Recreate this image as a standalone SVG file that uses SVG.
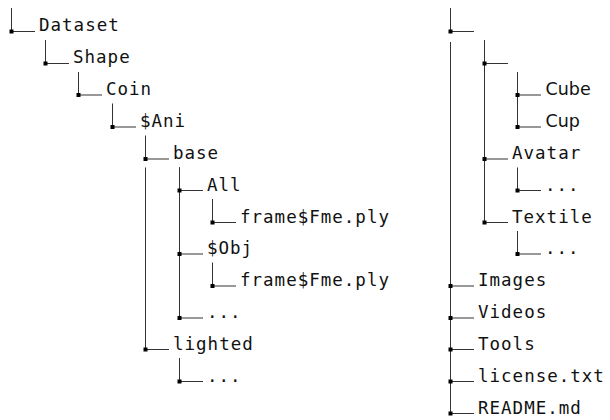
<svg xmlns="http://www.w3.org/2000/svg" width="610" height="420" viewBox="0 0 610 420">
<style>
.c{fill:none;stroke:#333;stroke-width:1}
.j{fill:#000}
.t{font-family:"DejaVu Sans Mono","Liberation Mono",monospace;font-size:17.5px;letter-spacing:1px;fill:#111}
.s{font-family:"DejaVu Sans","Liberation Sans",sans-serif;font-size:17.5px;fill:#111}
</style>
<rect width="610" height="420" fill="#fff"/>
<g id="connectors">
<path class="c" d="M11.5 8V31.5H35"/>
<path class="c" d="M45.5 40V63.5H69"/>
<path class="c" d="M78.5 72V95H102"/>
<path class="c" d="M112.5 103.5V127H136"/>
<path class="c" d="M145.5 135.5V159H169"/>
<path class="c" d="M179.5 167.5V190.5H203"/>
<path class="c" d="M212.5 199V222.5H236"/>
<path class="c" d="M179.5 167.5V254H203"/>
<path class="c" d="M212.5 262.5V286H236"/>
<path class="c" d="M179.5 167.5V318H203"/>
<path class="c" d="M145.5 167.5V349.5H169"/>
<path class="c" d="M179.5 358V381.5H203"/>
<path class="c" d="M450.5 8V31.5H474"/>
<path class="c" d="M484.5 40V63.5H508"/>
<path class="c" d="M517.5 72V95H541"/>
<path class="c" d="M517.5 72V127H541"/>
<path class="c" d="M484.5 40V159H508"/>
<path class="c" d="M517.5 167.5V190.5H541"/>
<path class="c" d="M484.5 40V222.5H508"/>
<path class="c" d="M517.5 231V254H541"/>
<path class="c" d="M450.5 42V286H474"/>
<path class="c" d="M450.5 42V318H474"/>
<path class="c" d="M450.5 42V349.5H474"/>
<path class="c" d="M450.5 42V381.5H474"/>
<path class="c" d="M450.5 42V413.5H474"/>
</g>
<g id="n-dataset"><rect class="j" x="9.5" y="29.5" width="4" height="4"/><text class="t" x="39" y="31">Dataset</text></g>
<g id="n-shape"><rect class="j" x="43.5" y="61.5" width="4" height="4"/><text class="t" x="73" y="63">Shape</text></g>
<g id="n-coin"><rect class="j" x="76.5" y="93" width="4" height="4"/><text class="t" x="106" y="95">Coin</text></g>
<g id="n-ani"><rect class="j" x="110.5" y="125" width="4" height="4"/><text class="t" x="140" y="127">$Ani</text></g>
<g id="n-base"><rect class="j" x="143.5" y="157" width="4" height="4"/><text class="t" x="173" y="159">base</text></g>
<g id="n-all"><rect class="j" x="177.5" y="188.5" width="4" height="4"/><text class="t" x="207" y="190.5">All</text></g>
<g id="n-frame1"><rect class="j" x="210.5" y="220.5" width="4" height="4"/><text class="t" x="240" y="222.5">frame$Fme.ply</text></g>
<g id="n-obj"><rect class="j" x="177.5" y="252" width="4" height="4"/><text class="t" x="207" y="254">$Obj</text></g>
<g id="n-frame2"><rect class="j" x="210.5" y="284" width="4" height="4"/><text class="t" x="240" y="286">frame$Fme.ply</text></g>
<g id="n-more1"><rect class="j" x="177.5" y="316" width="4" height="4"/><text class="t" x="207" y="318">...</text></g>
<g id="n-lighted"><rect class="j" x="143.5" y="347.5" width="4" height="4"/><text class="t" x="173" y="349.5">lighted</text></g>
<g id="n-more2"><rect class="j" x="177.5" y="379.5" width="4" height="4"/><text class="t" x="207" y="381.5">...</text></g>
<g id="n-root2"><rect class="j" x="448.5" y="29.5" width="4" height="4"/></g>
<g id="n-sub"><rect class="j" x="482.5" y="61.5" width="4" height="4"/></g>
<g id="n-cube"><rect class="j" x="515.5" y="93" width="4" height="4"/><text class="s" x="545.5" y="95">Cube</text></g>
<g id="n-cup"><rect class="j" x="515.5" y="125" width="4" height="4"/><text class="s" x="545.5" y="127">Cup</text></g>
<g id="n-avatar"><rect class="j" x="482.5" y="157" width="4" height="4"/><text class="t" x="512" y="159">Avatar</text></g>
<g id="n-more3"><rect class="j" x="515.5" y="188.5" width="4" height="4"/><text class="t" x="545" y="190.5">...</text></g>
<g id="n-textile"><rect class="j" x="482.5" y="220.5" width="4" height="4"/><text class="t" x="512" y="222.5">Textile</text></g>
<g id="n-more4"><rect class="j" x="515.5" y="252" width="4" height="4"/><text class="t" x="545" y="254">...</text></g>
<g id="n-images"><rect class="j" x="448.5" y="284" width="4" height="4"/><text class="t" x="478" y="286">Images</text></g>
<g id="n-videos"><rect class="j" x="448.5" y="316" width="4" height="4"/><text class="t" x="478" y="318">Videos</text></g>
<g id="n-tools"><rect class="j" x="448.5" y="347.5" width="4" height="4"/><text class="t" x="478" y="349.5">Tools</text></g>
<g id="n-license"><rect class="j" x="448.5" y="379.5" width="4" height="4"/><text class="t" x="478" y="381.5">license.txt</text></g>
<g id="n-readme"><rect class="j" x="448.5" y="411.5" width="4" height="4"/><text class="t" x="478" y="413.5">README.md</text></g>
</svg>
